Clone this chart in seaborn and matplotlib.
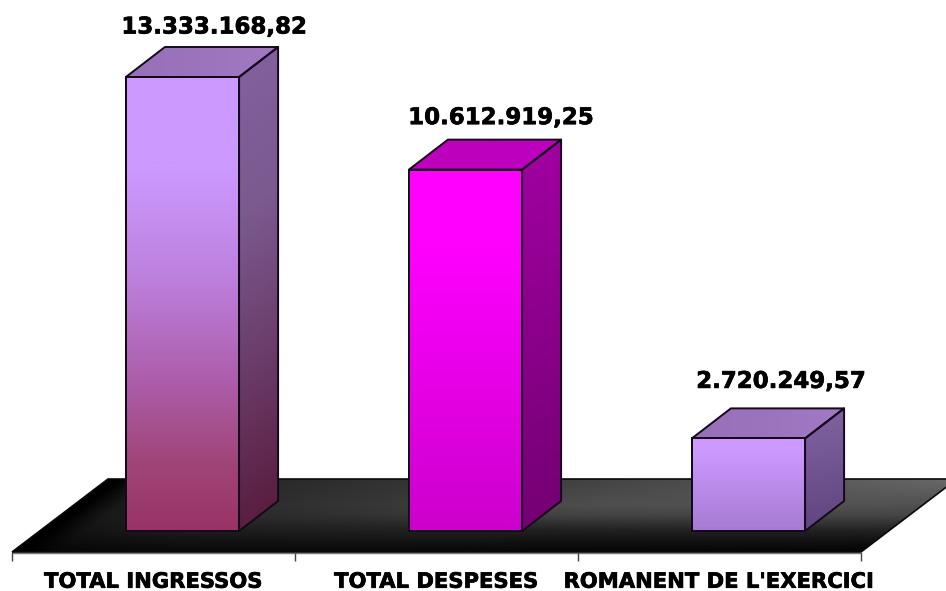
import numpy as np
import pandas as pd
import matplotlib
matplotlib.use("Agg")
import matplotlib.pyplot as plt
import matplotlib.patheffects as pe
from matplotlib.colors import to_rgb
from matplotlib.patches import Polygon
import seaborn as sns

# ---- data ----
categories = ["TOTAL INGRESSOS", "TOTAL DESPESES", "ROMANENT DE L'EXERCICI"]
values = [13333168.82, 10612919.25, 2720249.57]

# ---- style ----
FRONT = [
    [(0, "#CC99FF"), (.2, "#CC99FF"), (.45, "#BC7FDC"), (.68, "#AC5CA8"), (.85, "#A04578"), (1, "#993366")],
    [(0, "#FF00FF"), (.2, "#FF00FF"), (1, "#CC00CC")],
    [(0, "#CC99FF"), (.15, "#CC99FF"), (1, "#A67AD2")],
]
SIDE = [
    [(0, "#82619F"), (.35, "#7B5A90"), (.7, "#693A66"), (1, "#5A1E40")],
    [(0, "#A300A3"), (1, "#740074")],
    [(0, "#8263A3"), (1, "#604680")],
]
TOP = [("#9870B8", "#A078C4"), ("#BC00BC", "#BE00BE"), ("#9870B8", "#A078C4")]
EDGE = "#14081A"
LW = 1.4
LABEL_NUDGE_Y = [-4, -2, 3]
LABEL_NUDGE_X = [-1, 3, 0]
HEAVY = [pe.withStroke(linewidth=0.5, foreground="black")]

W, H = 946, 591
PX_X = 283.0            # pixels per category slot
PX_Y = 34.05e-6         # pixels per unit
X0_PX, Y0_PX = 182.5, 531.0
def xd(px): return (px - X0_PX) / PX_X
def yd(px): return (Y0_PX - px) / PX_Y
DX, DY = 39 / PX_X, 30 / PX_Y

def ramp(stops, t):
    ts = [s[0] for s in stops]
    rgb = np.array([to_rgb(s[1]) for s in stops])
    return np.stack([np.interp(t, ts, rgb[:, i]) for i in range(3)], axis=-1)

sns.set_theme(style="white")
plt.rcParams["font.family"] = ["DejaVu Sans"]
plt.rcParams["font.weight"] = "bold"

fig = plt.figure(figsize=(W / 100, H / 100), dpi=100, facecolor="white")
ax = fig.add_axes([0, 0, 1, 1])
ax.set_facecolor("none")

df = pd.DataFrame({"cat": categories, "val": values})
sns.barplot(data=df, x="cat", y="val", hue="cat", dodge=False, width=0.4,
            palette=["#CC99FF", "#FF00FF", "#CC99FF"], edgecolor=EDGE,
            linewidth=LW, legend=False, ax=ax)

def paint(poly_pts, rgb, zorder):
    xs, ys = zip(*poly_pts)
    poly = Polygon(poly_pts, closed=True, facecolor="none", edgecolor=EDGE,
                   linewidth=LW, zorder=zorder + .1, joinstyle="round",
                   transform=ax.transData)
    ax.add_patch(poly)
    im = ax.imshow(rgb, extent=(min(xs), max(xs), min(ys), max(ys)), origin="lower",
                   aspect="auto", interpolation="bilinear", zorder=zorder)
    im.set_clip_path(poly)
    return poly

# floor: shading runs parallel to the slanted left edge, fading towards the front
fl_l, fl_r = xd(12), xd(861)
fl_f, fl_b = yd(552), yd(479)
fdx = 96 / PX_X
xpx = np.linspace(12, 957, 500)
ypx = np.linspace(552, 479, 150)
XX, YY = np.meshgrid(xpx, ypx)
U = XX - (12 + (552 - YY) * 96 / 73)
hx = np.interp(U, [0, 10, 45, 150, 300, 520, 800, 849], [0, 0, .10, .165, .215, .31, .40, .41])
prof_y = [479, 505, 515, 530, 540, 552]
prof_l = np.interp(ypx, prof_y, [1, 1, 1, .8, .55, .25])
prof_m = np.interp(ypx, prof_y, [.88, 1, .85, .42, .25, .08])
prof_r = np.interp(ypx, prof_y, [1, .76, .66, .33, .18, .03])
w = np.clip(U / 849, 0, 1)
v = np.where(w < .6,
             prof_l[:, None] + (prof_m - prof_l)[:, None] * (w / .6),
             prof_m[:, None] + (prof_r - prof_m)[:, None] * ((w - .6) / .4))
g = hx * v
floor = paint([(fl_l, fl_f), (fl_r, fl_f), (fl_r + fdx, fl_b), (fl_l + fdx, fl_b)],
              np.dstack([g, g, g]), 1)
floor.set_edgecolor("#0A0A0A")
floor.set_linewidth(1.2)

# bars: gradient faces built on the geometry of seaborn's own rectangles
for i, bar in enumerate(ax.patches[:3]):
    x0, bw, h = bar.get_x(), bar.get_width(), bar.get_height()
    x1 = x0 + bw
    t = np.linspace(1, 0, 200)[:, None] * np.ones((200, 4))
    bar.set_facecolor("none")
    bar.set_zorder(3.1)
    paint([(x0, 0), (x1, 0), (x1, h), (x0, h)], ramp(FRONT[i], t), 3)
    # side face: diagonal shading
    tt = np.linspace(1, 0, 200)[:, None] + np.linspace(0, .06, 40)[None, :]
    tt = np.clip(tt, 0, 1)
    paint([(x1, 0), (x1 + DX, DY), (x1 + DX, h + DY), (x1, h)], ramp(SIDE[i], tt), 2)
    # top face
    c = np.linspace(0, 1, 40)
    top = np.outer(1 - c, to_rgb(TOP[i][0])) + np.outer(c, to_rgb(TOP[i][1]))
    paint([(x0, h), (x1, h), (x1 + DX, h + DY), (x0 + DX, h + DY)],
          np.tile(top[None, :, :], (10, 1, 1)), 2)
    # value label
    txt = f"{values[i]:,.2f}".replace(",", "#").replace(".", ",").replace("#", ".")
    ax.text(i + (32.5 + LABEL_NUDGE_X[i]) / PX_X, h + (54 + LABEL_NUDGE_Y[i]) / PX_Y, txt,
            ha="center", va="center", fontsize=16.5, fontweight="bold", color="black",
            zorder=5, path_effects=HEAVY)

# axis
ax.set_xlim(xd(0), xd(W))
ax.set_ylim(yd(H), yd(0))
for s in ("left", "right", "top"):
    ax.spines[s].set_visible(False)
sp = ax.spines["bottom"]
sp.set_position(("data", yd(553)))
sp.set_bounds(fl_l, fl_r)
sp.set_color("#777777")
sp.set_linewidth(1)
sp.set_zorder(.5)
ax.set_ylabel("")
ax.set_xlabel("")
ax.set_yticks([])
offset = 29 / PX_X
ax.set_xticks([k - offset for k in range(len(categories))], labels=categories)
ax.set_xticks([k - offset - .5 for k in range(len(categories) + 1)], minor=True)
ax.tick_params(axis="x", which="major", length=0, pad=13.5, labelsize=15.2, labelcolor="black")
ax.tick_params(axis="x", which="minor", length=6, width=1, color="#444444", bottom=True)
for lab in ax.get_xticklabels():
    lab.set_fontweight("bold")
    lab.set_path_effects(HEAVY)

fig.savefig("out.png", dpi=100, facecolor="white")
